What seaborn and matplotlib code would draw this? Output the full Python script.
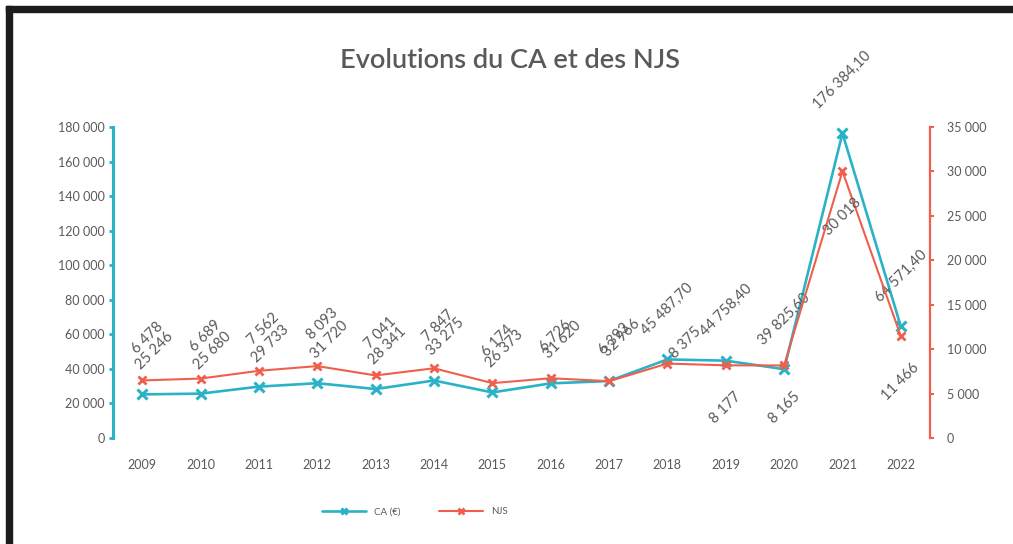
import pandas as pd
import matplotlib
matplotlib.use("Agg")
import matplotlib.pyplot as plt
import seaborn as sns
from matplotlib.patches import Rectangle
from matplotlib.ticker import FuncFormatter, MultipleLocator

# données
annees = ["2009", "2010", "2011", "2012", "2013", "2014", "2015",
          "2016", "2017", "2018", "2019", "2020", "2021", "2022"]
ca = [25246, 25680, 29733, 31720, 28341, 33275, 26373,
      31620, 32966, 45487.70, 44758.40, 39825.60, 176384.10, 64571.40]
njs = [6478, 6689, 7562, 8093, 7041, 7847, 6174,
       6726, 6393, 8375, 8177, 8165, 30018, 11466]

CYAN = "#2AB3C6"
ROUGE = "#EF5F4C"
GRIS = "#595959"
W, H = 1013, 544

sns.set_theme(style="white")
plt.rcParams["font.family"] = ["Lato", "DejaVu Sans"]

df = pd.DataFrame({"annee": annees, "ca": ca, "njs": njs})


def fmt_milliers(v, decimales=False):
    if decimales:
        s = f"{v:,.2f}"
        return s.replace(",", " ").replace(".", ",")
    return f"{v:,.0f}".replace(",", " ")


fig = plt.figure(figsize=(W / 100, H / 100), dpi=100)
ax = fig.add_axes([113 / W, 1 - 438 / H, (930 - 113) / W, (438 - 127) / H])
ax2 = ax.twinx()

sns.lineplot(data=df, x="annee", y="ca", ax=ax, color=CYAN, linewidth=1.9,
             marker="x", markersize=6.5, markeredgewidth=2.2,
             markeredgecolor=CYAN, label="CA (€)", legend=False)
sns.lineplot(data=df, x="annee", y="njs", ax=ax2, color=ROUGE, linewidth=1.5,
             marker="x", markersize=6, markeredgewidth=2,
             markeredgecolor=ROUGE, label="NJS", legend=False)

ax.set_xlim(-0.5, len(annees) - 0.5)
ax.set_ylim(0, 180000)
ax2.set_ylim(0, 35000)
ax.yaxis.set_major_locator(MultipleLocator(20000))
ax2.yaxis.set_major_locator(MultipleLocator(5000))
ax.yaxis.set_major_formatter(FuncFormatter(lambda v, p: fmt_milliers(v)))
ax2.yaxis.set_major_formatter(FuncFormatter(lambda v, p: fmt_milliers(v)))

for a in (ax, ax2):
    a.set_xlabel("")
    a.set_ylabel("")
    for s in ("top", "bottom"):
        a.spines[s].set_visible(False)
ax.spines["right"].set_visible(False)
ax2.spines["left"].set_visible(False)
ax.spines["left"].set_color(CYAN)
ax.spines["left"].set_linewidth(2.2)
ax2.spines["right"].set_color(ROUGE)
ax2.spines["right"].set_linewidth(1.6)

ax.tick_params(axis="y", direction="out", length=3, width=2, color=CYAN,
               labelsize=9, labelcolor=GRIS, pad=3, left=True)
ax2.tick_params(axis="y", direction="out", length=3, width=1.5, color=ROUGE,
                labelsize=9, labelcolor=GRIS, pad=9, right=True)
ax.tick_params(axis="x", length=0, labelsize=9, labelcolor=GRIS, pad=15)

# étiquettes de données (inclinées à 45°)
TAILLE_ETIQ = 10.5
for i, (a, b) in enumerate(zip(ca, njs)):
    txt_ca = fmt_milliers(a, decimales=(i >= 9))
    dx_ca = 12 if i < 9 else 0
    ax.annotate(txt_ca, xy=(i, a), xytext=(dx_ca, 22), textcoords="offset pixels",
                rotation=45, ha="center", va="bottom", fontsize=TAILLE_ETIQ, color=GRIS)
    txt_njs = fmt_milliers(b)
    if i < 9:
        ax2.annotate(txt_njs, xy=(i, b), xytext=(5, 24), textcoords="offset pixels",
                     rotation=45, ha="center", va="bottom", fontsize=TAILLE_ETIQ, color=GRIS)
    elif i == 9:
        ax2.annotate(txt_njs, xy=(i, b), xytext=(0, 2), textcoords="offset pixels",
                     rotation=45, ha="left", va="bottom", fontsize=TAILLE_ETIQ, color=GRIS)
    else:
        ax2.annotate(txt_njs, xy=(i, b), xytext=(0, -24), textcoords="offset pixels",
                     rotation=45, ha="center", va="top", fontsize=TAILLE_ETIQ, color=GRIS)

fig.text(510 / W, 1 - 60 / H, "Evolutions du CA et des NJS", ha="center",
         va="center", fontsize=19.5, fontweight="semibold", color=GRIS)

handles = ax.get_lines()[:1] + ax2.get_lines()[:1]
fig.legend(handles, ["CA (€)", "NJS"], loc="center", ncol=2,
           bbox_to_anchor=(415 / W, 1 - 512 / H), frameon=False, fontsize=7,
           labelcolor=GRIS, handlelength=4.5, columnspacing=4, markerscale=0.7)

# cadre noir (haut et gauche)
fig.add_artist(Rectangle((6 / W, 1 - 12 / H), 1, 6 / H, transform=fig.transFigure,
                         color="#1c1c1c", zorder=10))
fig.add_artist(Rectangle((6 / W, 0), 6 / W, 1 - 6 / H, transform=fig.transFigure,
                         color="#1c1c1c", zorder=10))

fig.savefig("out.png", dpi=100)
plt.close(fig)
